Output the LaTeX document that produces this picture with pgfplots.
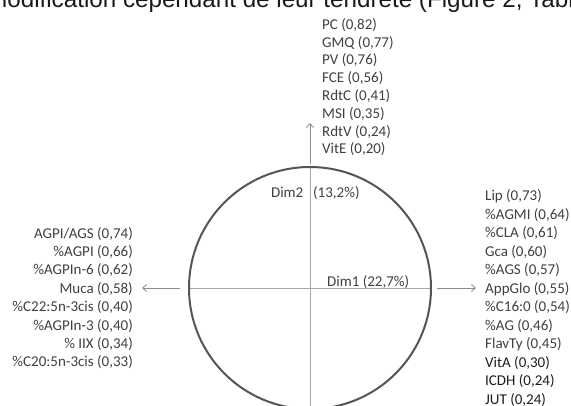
\documentclass[border=0pt]{standalone}
\usepackage{pgfplots}
\pgfplotsset{compat=1.18}
\usetikzlibrary{arrows.meta}
\usepackage{fontspec}
\setmainfont{Carlito}
\newfontfamily\arialfont{Liberation Sans}
\definecolor{lbl}{HTML}{404040}
\definecolor{lbldk}{HTML}{1E1E1E}
\definecolor{circ}{HTML}{555555}
\definecolor{axl}{HTML}{A6A6A6}
\definecolor{arr}{HTML}{8C8C8C}
\tikzset{
  lbl/.style={font=\fontsize{15}{18}\selectfont, text=lbl, inner sep=0pt},
  tl/.style={lbl, anchor=base west},
  ll/.style={lbl, anchor=base east},
}
\begin{document}
\begin{tikzpicture}
\begin{axis}[
  at={(0,0)}, anchor=south west,
  scale only axis, width=571pt, height=406pt,
  xmin=0, xmax=571, ymin=0, ymax=406, y dir=reverse,
  axis lines=none, clip=false,
]
% axes inside the circle
\addplot[axl, line width=0.8pt] coordinates {(189,288) (431,288)};
\addplot[axl, line width=0.8pt] coordinates {(310,167) (310,420)};
% arrows
\addplot[arr, line width=0.8pt, -{Straight Barb[length=4pt,width=7pt]}] coordinates {(310,164) (310,123)};
\addplot[arr, line width=0.8pt, -{Straight Barb[length=4pt,width=7pt]}] coordinates {(437,288) (476,288)};
\addplot[arr, line width=0.8pt, -{Straight Barb[length=4pt,width=7pt]}] coordinates {(180,288) (142,288)};
% correlation circle
\draw[circ, line width=2pt] (axis cs:310,288) circle[radius=121];
% partial text of the page above
\node[anchor=base west, inner sep=0pt, font=\arialfont\fontsize{24.2}{28}\selectfont, text=black!90]
  at (axis cs:-13,7.3) {modification cependant de leur tendreté (Figure 2, Tableau 3).};
% axis names
\node[ll] at (axis cs:303.5,197.5) {Dim2};
\node[tl] at (axis cs:313,197.5) {(13,2\%)};
\node[tl] at (axis cs:327,286.5) {Dim1 (22,7\%)};
% top stack (Dim2 +)
\node[tl] at (axis cs:322,29.3) {PC (0,82)};
\node[tl] at (axis cs:322,47.1) {GMQ (0,77)};
\node[tl] at (axis cs:322,64.9) {PV (0,76)};
\node[tl] at (axis cs:322,82.7) {FCE (0,56)};
\node[tl] at (axis cs:322,100.5) {RdtC (0,41)};
\node[tl] at (axis cs:322,118.3) {MSI (0,35)};
\node[tl] at (axis cs:322,136.1) {RdtV (0,24)};
\node[tl] at (axis cs:322,153.9) {VitE (0,20)};
% right stack (Dim1 +)
\node[tl] at (axis cs:485,200.8) {Lip (0,73)};
\node[tl] at (axis cs:485,219.3) {\%AGMI (0,64)};
\node[tl] at (axis cs:485,237.8) {\%CLA (0,61)};
\node[tl] at (axis cs:485,256.3) {Gca (0,60)};
\node[tl] at (axis cs:485,274.8) {\%AGS (0,57)};
\node[tl] at (axis cs:485,293.3) {AppGlo (0,55)};
\node[tl] at (axis cs:485,311.8) {\%C16:0 (0,54)};
\node[tl] at (axis cs:485,330.3) {\%AG (0,46)};
\node[tl] at (axis cs:485,348.8) {FlavTy (0,45)};
\node[tl, text=lbldk] at (axis cs:485,367.3) {VitA (0,30)};
\node[tl, text=lbldk] at (axis cs:485,385.8) {ICDH (0,24)};
\node[tl, text=lbldk] at (axis cs:485,404.3) {JUT (0,24)};
% left stack (Dim1 -)
\node[ll] at (axis cs:133,238.1) {AGPI/AGS (0,74)};
\node[ll] at (axis cs:133,256.5) {\%AGPI (0,66)};
\node[ll] at (axis cs:133,274.9) {\%AGPIn-6 (0,62)};
\node[ll] at (axis cs:133,293.3) {Muca (0,58)};
\node[ll] at (axis cs:133,311.7) {\%C22:5n-3cis (0,40)};
\node[ll] at (axis cs:133,330.1) {\%AGPIn-3 (0,40)};
\node[ll] at (axis cs:133,348.5) {\% IIX (0,34)};
\node[ll] at (axis cs:133,366.9) {\%C20:5n-3cis (0,33)};
\end{axis}
\pgfresetboundingbox
\path (0,0) rectangle (571pt,406pt);
\end{tikzpicture}
\end{document}
